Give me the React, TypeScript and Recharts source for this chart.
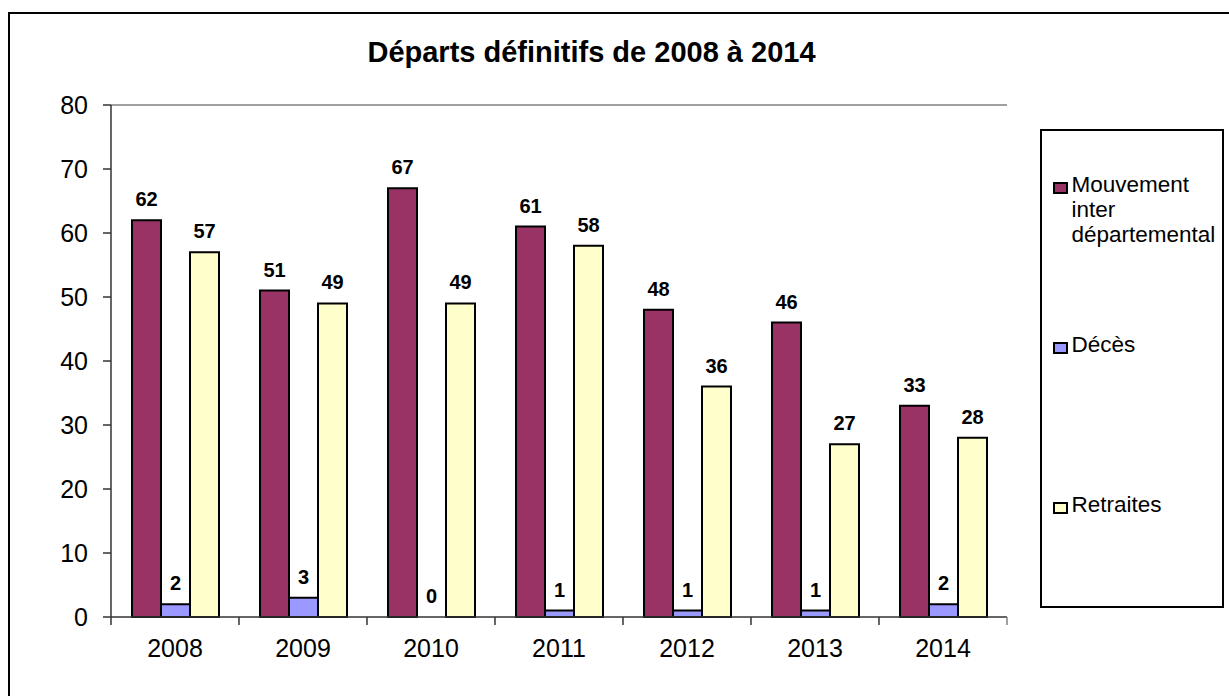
import React from 'react';
import { BarChart, Bar, XAxis, YAxis, LabelList, ReferenceLine, Rectangle } from 'recharts';

const years = ['2008', '2009', '2010', '2011', '2012', '2013', '2014'];
const mouvement = [62, 51, 67, 61, 48, 46, 33];
const deces = [2, 3, 0, 1, 1, 1, 2];
const retraites = [57, 49, 49, 58, 36, 27, 28];
const yTicks = [0, 10, 20, 30, 40, 50, 60, 70, 80];

const seriesNames = ['Mouvement inter départemental', 'Décès', 'Retraites'];
const seriesKeys = ['mouvement', 'deces', 'retraites'];
const seriesColors = ['#993366', '#9999FF', '#FFFFCC'];

const data = years.map((year, i) => ({
  year,
  mouvement: mouvement[i],
  deces: deces[i],
  retraites: retraites[i],
}));

const FONT = '"Liberation Sans", Arial, Helvetica, sans-serif';
const W = 1229;
const H = 696;
const MARGIN = { top: 105, right: 222, bottom: 39, left: 0 };
const Y_AXIS_W = 111;
const PLOT_W = W - MARGIN.left - MARGIN.right - Y_AXIS_W;
const HALF_BAND = PLOT_W / years.length / 2;

const CatTick = (props: any) => {
  const { x, y, payload, index } = props;
  const last = index === years.length - 1;
  return (
    <g>
      <line x1={x - HALF_BAND} x2={x - HALF_BAND} y1={y} y2={y + 8} stroke="#333" strokeWidth={1.5} />
      {last && <line x1={x + HALF_BAND} x2={x + HALF_BAND} y1={y} y2={y + 8} stroke="#808080" strokeWidth={1.5} />}
      <text x={x} y={y + 40} textAnchor="middle" fontSize={25} fontFamily={FONT} fill="#000">
        {payload.value}
      </text>
    </g>
  );
};

const BarShape = (props: any) => {
  if (!props.height || Math.abs(props.height) < 1) return <g />;
  return <Rectangle {...props} />;
};

const ValueLabel = (props: any) => {
  const { x, y, width, value } = props;
  return (
    <text
      x={Number(x) + Number(width) / 2}
      y={Number(y) - 14}
      textAnchor="middle"
      fontSize={20}
      fontWeight={700}
      fontFamily={FONT}
      fill="#000"
    >
      {value}
    </text>
  );
};

export default function App() {
  return (
    <div style={{ position: 'relative', width: W, height: H, fontFamily: FONT }}>
      <style>{`html,body{margin:0;padding:0;overflow:hidden;background:#fff}`}</style>
      <div
        style={{
          position: 'absolute',
          left: 7.5,
          top: 11.5,
          width: 1300,
          height: 800,
          borderLeft: '2.5px solid #000',
          borderTop: '2.5px solid #000',
          boxSizing: 'border-box',
        }}
      />
      <div
        style={{
          position: 'absolute',
          left: 591.5,
          top: 37.5,
          transform: 'translateX(-50%)',
          fontSize: 29,
          lineHeight: '29px',
          fontWeight: 700,
          whiteSpace: 'nowrap',
          color: '#000',
        }}
      >
        Départs définitifs de 2008 à 2014
      </div>
      <div style={{ position: 'absolute', left: 0, top: 0 }}>
        <BarChart
          width={W}
          height={H}
          data={data}
          margin={MARGIN}
          barCategoryGap={21}
          barGap={0}
        >
          <XAxis
            dataKey="year"
            height={40}
            tickSize={0}
            tickMargin={0}
            tickLine={false}
            axisLine={{ stroke: '#333', strokeWidth: 1.5 }}
            tick={<CatTick />}
            interval={0}
          />
          <YAxis
            width={Y_AXIS_W}
            domain={[0, 80]}
            ticks={yTicks}
            interval={0}
            tickSize={8}
            tickMargin={15}
            axisLine={{ stroke: '#333', strokeWidth: 1.5 }}
            tickLine={{ stroke: '#333', strokeWidth: 1.5 }}
            tick={{ fontSize: 25, fontFamily: FONT, fill: '#000' }}
          />
          <YAxis
            yAxisId="r"
            orientation="right"
            width={0}
            domain={[0, 80]}
            tick={false}
            tickLine={false}
            axisLine={{ stroke: '#808080', strokeWidth: 1.5 }}
          />
          <ReferenceLine y={80} stroke="#808080" strokeWidth={1.5} />
          {seriesKeys.map((k, i) => (
            <Bar
              key={k}
              dataKey={k}
              name={seriesNames[i]}
              fill={seriesColors[i]}
              stroke="#000"
              strokeWidth={2}
              minPointSize={0.01}
              shape={<BarShape />}
              isAnimationActive={false}
            >
              <LabelList dataKey={k} content={<ValueLabel />} />
            </Bar>
          ))}
        </BarChart>
      </div>
      <div
        style={{
          position: 'absolute',
          left: 1040,
          top: 129,
          width: 184,
          height: 479,
          border: '2.5px solid #000',
          boxSizing: 'border-box',
          background: '#fff',
          paddingTop: 40.5,
        }}
      >
        {seriesNames.map((name, i) => (
          <div key={name} style={{ position: 'relative', height: 160 }}>
            <div
              style={{
                position: 'absolute',
                left: 10.5,
                top: 10,
                width: 15,
                height: 12,
                border: '2.5px solid #000',
                boxSizing: 'border-box',
                background: seriesColors[i],
              }}
            />
            <div
              style={{
                position: 'absolute',
                left: 29.5,
                top: 0,
                width: 160,
                fontSize: 22.5,
                lineHeight: '25px',
                color: '#000',
              }}
            >
              {name}
            </div>
          </div>
        ))}
      </div>
    </div>
  );
}
